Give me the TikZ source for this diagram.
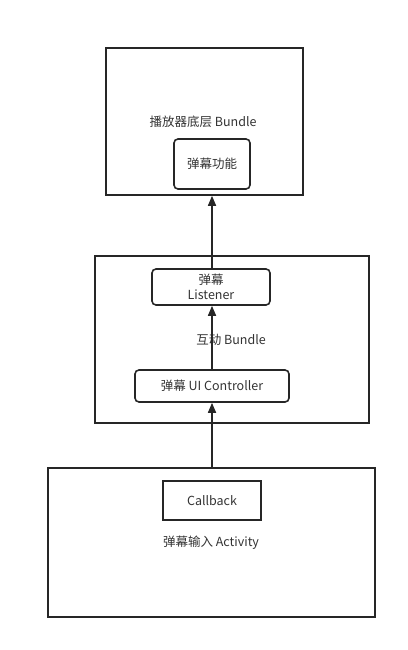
\documentclass[tikz,border=0pt]{standalone}
\usepackage{fontspec}
\setmainfont{Noto Sans CJK SC}
\usetikzlibrary{arrows.meta}
\begin{document}
\begin{tikzpicture}[x=1pt,y=-1pt,
  outer/.style={draw=black!85,line width=1.6pt,inner sep=0pt},
  inner/.style={draw=black!85,line width=1.6pt,rounded corners=4pt,inner sep=0pt,align=center,text=black!80,font=\fontsize{12.5}{14}\selectfont},
  lbl/.style={inner sep=0pt,font=\fontsize{12.5}{14}\selectfont,text=black!80},
  conn/.style={draw=black!85,line width=1.6pt,-{Triangle[length=10pt,width=8pt]}}]
\useasboundingbox (0,0) rectangle (407,650);
% boxes
\node[outer,minimum width=197pt,minimum height=147pt] (top) at (204.5,121.5) {};
\node[outer,minimum width=274pt,minimum height=167pt] (mid) at (232,339.5) {};
\node[outer,minimum width=327pt,minimum height=149pt] (bot) at (211.5,542.5) {};
% labels
\node[lbl] (toplbl) at (203,122) {播放器底层 Bundle};
\node[lbl] (midlbl) at (231,340) {互动 Bundle};
\node[lbl] (botlbl) at (211,543) {弹幕输入 Activity};
% inner nodes
\node[inner,minimum width=76pt,minimum height=50pt] (func) at (212,164) {弹幕功能};
\node[inner,minimum width=118pt,minimum height=36pt,font=\fontsize{12.5}{15}\selectfont] (lis) at (211,287) {弹幕\\Listener};
\node[inner,minimum width=154pt,minimum height=32pt] (ui) at (212,386) {弹幕 UI Controller};
\node[inner,rounded corners=0pt,minimum width=98pt,minimum height=39pt] (cb) at (212,500.5) {Callback};
% connectors
\draw[conn] (bot.north -| ui.south) -- (ui.south);
\draw[conn] (ui.north) -- (ui.north |- lis.south);
\draw[conn] (lis.north -| func.south) -- (func.south |- top.south);
\end{tikzpicture}
\end{document}
